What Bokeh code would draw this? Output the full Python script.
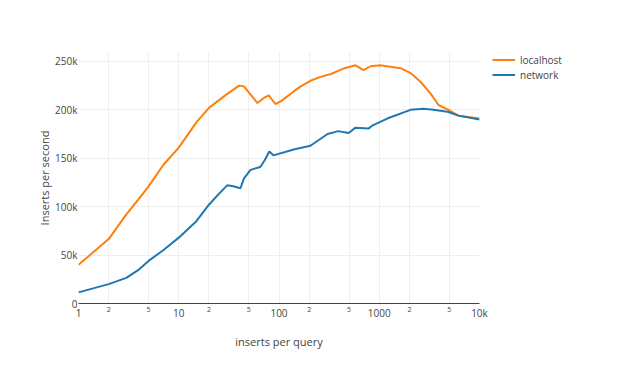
from bokeh.plotting import figure
from bokeh.models import FixedTicker, Legend, LegendItem, Range1d, LogAxis
from bokeh.layouts import row
from bokeh.embed import file_html
from bokeh.resources import INLINE

# inserts per query vs inserts per second (values in thousands)
local_x = [1, 2, 3, 4, 5, 7, 10, 15, 20, 30, 40, 45, 50, 61, 70, 79, 92, 105, 140, 163, 206, 259,
           330, 450, 580, 697, 818, 1026, 1630, 2050, 2580, 3240, 3900, 4900, 6170, 10000]
local_y = [40, 66.5, 92, 108, 121, 143, 161, 187, 202, 216, 225, 224, 218, 207, 212, 215, 206, 209, 219, 224, 230, 234,
           237, 243, 246, 241, 245, 246, 243, 238, 229, 217, 205, 200, 194, 191]

net_x = [1, 2, 3, 4, 5, 7, 10, 15, 20, 25, 30.4, 35, 41.3, 44.6, 52, 65, 72, 80, 88, 140, 206, 220,
         305, 390, 495, 580, 780, 860, 1200, 2050, 2760, 3470, 4800, 6170, 10000]
net_y = [11.5, 20, 26.5, 35, 44, 55, 68, 85, 102, 113, 122, 121, 119, 129, 138, 141, 148, 157, 153, 159, 163, 165,
         175, 178, 176, 181.6, 180.6, 184, 191, 200, 201, 200, 198, 194, 190]

series_names = ["localhost", "network"]
series_colors = ["#ff7f0e", "#1f77b4"]

major_ticks = [1, 10, 100, 1000, 10000]
major_labels = {1: "1", 10: "10", 100: "100", 1000: "1000", 10000: "10k"}
minor_ticks = [2, 5, 20, 50, 200, 500, 2000, 5000]
minor_labels = {2: "2", 5: "5", 20: "2", 50: "5", 200: "2", 500: "5", 2000: "2", 5000: "5"}
y_ticks = [0, 50000, 100000, 150000, 200000, 250000]
y_labels = {0: "0", 50000: "50k", 100000: "100k", 150000: "150k", 200000: "200k", 250000: "250k"}

FONT = "Open Sans"
TXT = "#444444"

p = figure(width=491, height=365, x_axis_type="log", output_backend="svg", toolbar_location=None,
           x_range=Range1d(1, 10000), y_range=Range1d(0, 259200),
           min_border_left=78, min_border_right=12, min_border_top=49, min_border_bottom=62)
p.outline_line_color = None
p.background_fill_color = "white"

r1 = p.line(local_x, [y * 1000 for y in local_y], line_color=series_colors[0], line_width=2)
r2 = p.line(net_x, [y * 1000 for y in net_y], line_color=series_colors[1], line_width=2)

# minor x axis (closest to the frame): small "2" / "5" labels and the axis line
xa = p.xaxis[0]
xa.ticker = FixedTicker(ticks=minor_ticks)
xa.major_label_overrides = minor_labels
xa.major_tick_line_color = None
xa.minor_tick_line_color = None
xa.major_tick_out = 0
xa.minor_tick_out = 0
xa.axis_line_color = TXT
xa.axis_line_width = 1
xa.major_label_standoff = 3
xa.major_label_text_font = FONT
xa.major_label_text_font_size = "7px"
xa.major_label_text_color = TXT

# major x axis with title
xb = LogAxis(ticker=FixedTicker(ticks=major_ticks))
xb.major_label_overrides = major_labels
xb.major_tick_line_color = None
xb.minor_tick_line_color = None
xb.major_tick_out = 0
xb.minor_tick_out = 0
xb.axis_line_color = None
xb.major_label_standoff = -9
xb.major_label_text_font = FONT
xb.major_label_text_font_size = "10px"
xb.major_label_text_color = TXT
xb.axis_label = "inserts per query"
xb.axis_label_text_font = FONT
xb.axis_label_text_font_size = "11px"
xb.axis_label_text_font_style = "normal"
xb.axis_label_text_color = TXT
xb.axis_label_standoff = 11
p.add_layout(xb, "below")

p.xgrid.ticker = FixedTicker(ticks=sorted(major_ticks + minor_ticks))
p.xgrid.grid_line_color = "#eeeeee"

# y axis
ya = p.yaxis[0]
ya.ticker = FixedTicker(ticks=y_ticks)
ya.major_label_overrides = y_labels
ya.major_tick_line_color = None
ya.minor_tick_line_color = None
ya.major_tick_out = 0
ya.minor_tick_out = 0
ya.axis_line_color = None
ya.major_label_standoff = 1
ya.major_label_text_font = FONT
ya.major_label_text_font_size = "10px"
ya.major_label_text_color = TXT
ya.axis_label = "Inserts per second"
ya.axis_label_text_font = FONT
ya.axis_label_text_font_size = "11px"
ya.axis_label_text_font_style = "normal"
ya.axis_label_text_color = TXT
ya.axis_label_standoff = 0
p.ygrid.grid_line_color = "#eeeeee"

# legend panel to the right of the plot (series drawn out of its view, only the legend shows)
q = figure(width=122, height=365, output_backend="svg", toolbar_location=None,
           x_range=Range1d(0, 1), y_range=Range1d(0, 1),
           x_axis_location=None, y_axis_location=None,
           min_border_left=1, min_border_right=0, min_border_top=52, min_border_bottom=0)
q.outline_line_color = None
q.xgrid.visible = False
q.ygrid.visible = False
l1 = q.line(local_x, local_y, line_color=series_colors[0], line_width=2)
l2 = q.line(net_x, net_y, line_color=series_colors[1], line_width=2)

legend = Legend(items=[LegendItem(label=series_names[0], renderers=[l1]),
                       LegendItem(label=series_names[1], renderers=[l2])],
                location="top_left")
legend.background_fill_alpha = 0
legend.border_line_alpha = 0
legend.label_text_font = FONT
legend.label_text_font_size = "10px"
legend.label_text_color = TXT
legend.glyph_width = 23
legend.glyph_height = 15
legend.label_height = 15
legend.label_standoff = 5
legend.spacing = 0
legend.padding = 0
legend.margin = 0
q.add_layout(legend)

layout = row(p, q)
open("out.html", "w").write(file_html(layout, INLINE))
